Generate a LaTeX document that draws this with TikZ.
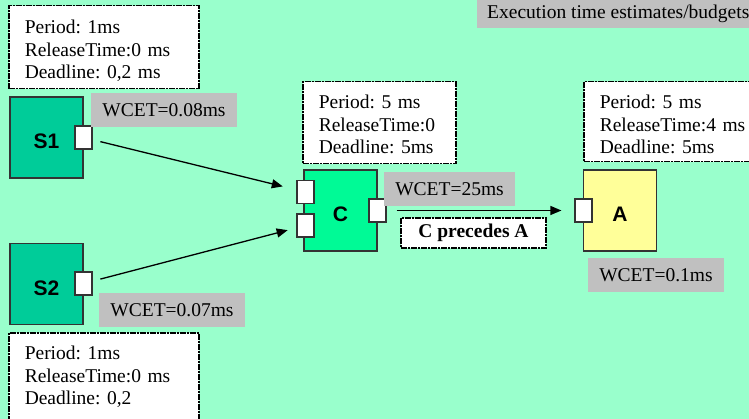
\documentclass[tikz,border=0pt]{standalone}
\usepackage{fontspec}
\newfontfamily\timesfont{Liberation Serif}
\newfontfamily\arialfont{Liberation Sans}
\usetikzlibrary{arrows.meta}
\definecolor{bgmint}{HTML}{99FFCC}
\definecolor{srcteal}{HTML}{00CC99}
\definecolor{ctrlgreen}{HTML}{00FA96}
\definecolor{actyellow}{HTML}{FFFF99}
\definecolor{estgray}{HTML}{C0C0C0}
\definecolor{edgegray}{HTML}{333333}
\frenchspacing

\begin{document}
\begin{tikzpicture}[
    x=1pt, y=-1pt,
    info node/.style={draw=black, fill=white, line width=1.5pt, dash pattern=on 6pt off 1pt on 2pt off 1pt, anchor=north west, inner xsep=16pt, inner ysep=0pt, align=left, text height=27pt, text depth=55pt, font=\timesfont\fontsize{19.5}{22.3}\selectfont},
    task node/.style={draw=edgegray, line width=1.3pt, minimum width=73pt, minimum height=81pt, inner sep=0pt, text height=23pt, text depth=0pt, font=\arialfont\bfseries\fontsize{21}{24}\selectfont},
    port node/.style={draw=edgegray, fill=white, line width=1.2pt, minimum width=17pt, minimum height=23pt, inner sep=0pt},
    wcet node/.style={fill=estgray, inner sep=0pt, minimum height=34pt, font=\timesfont\fontsize{19.5}{22.3}\selectfont},
    main edge/.style={line width=1.3pt, -{Triangle[length=11pt,width=9pt]}}
]
\useasboundingbox (0,0) rectangle (749,419);
\clip (0,0) rectangle (749,419);
\fill[bgmint] (0,0) rectangle (749,419);

% Budget header
\node[fill=estgray, anchor=north west, inner xsep=10pt, inner ysep=0pt, text height=23pt, text depth=10pt, font=\timesfont\fontsize{19.5}{22.3}\selectfont] (Budget) at (477,-5) {Execution time estimates/budgets};

% Timing parameters
\node[info node, text width=158pt, text height=28pt] (S1info) at (8,5) {Period: 1ms\\ReleaseTime:0 ms\\Deadline: 0,2 ms};
\node[info node, text width=121pt] (Cinfo) at (302,81) {Period: 5 ms\\ReleaseTime:0\\Deadline: 5ms};
\node[info node, text width=148pt, text depth=53pt] (Ainfo) at (583,81) {Period: 5 ms\\ReleaseTime:4 ms\\Deadline: 5ms};
\node[info node, text width=158pt, text depth=70pt] (S2info) at (8,332) {Period: 1ms\\ReleaseTime:0 ms\\Deadline: 0,2};

% Tasks
\node[task node, fill=srcteal]    (S1) at (46.5,137.5) {S1};
\node[task node, fill=srcteal]    (S2) at (46.5,284)   {S2};
\node[task node, fill=ctrlgreen]  (C)  at (340.5,210.5) {C};
\node[task node, fill=actyellow]  (A)  at (620,210.5)  {A};

% Ports
\node[port node] (S1out) at (83.5,137.5) {};
\node[port node] (S2out) at (83.5,283.5) {};
\node[port node] (Cin1)  at (305.5,192)  {};
\node[port node] (Cin2)  at (305.5,225.5) {};
\node[port node] (Cout)  at (377.5,210.5) {};
\node[port node] (Ain)   at (583.5,210.5) {};

% WCET budgets
\node[wcet node, minimum width=146pt] (S1wcet) at (164,110)   {WCET=0.08ms};
\node[wcet node, minimum width=146pt] (S2wcet) at (172,310.5) {WCET=0.07ms};
\node[wcet node, minimum width=131pt] (Cwcet)  at (449.5,189) {WCET=25ms};
\node[wcet node, minimum width=136pt] (Awcet)  at (656,275.5) {WCET=0.1ms};

% Data flow
\draw[main edge, shorten <=8pt, shorten >=14pt] (S1out) -- (Cin1);
\draw[main edge, shorten <=8pt, shorten >=9pt]  (S2out) -- (Cin2);
\draw[main edge, shorten <=10pt, shorten >=13pt] (Cout) -- (Ain);

\node[draw=black, fill=white, line width=1.5pt, dash pattern=on 6pt off 1pt on 2pt off 1pt, minimum width=145pt, minimum height=30pt, inner sep=0pt, font=\timesfont\bfseries\fontsize{19.5}{22.3}\selectfont] (Prec) at (473.5,233) {C precedes A};

\end{tikzpicture}
\end{document}
